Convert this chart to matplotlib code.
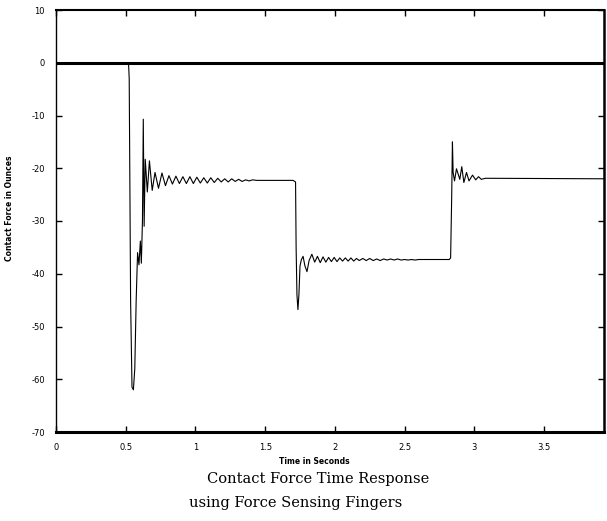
import matplotlib
matplotlib.use('Agg')
import matplotlib.pyplot as plt

# contact force trace (time in s, force in oz)
timeSec = [0.0, 0.52, 0.525, 0.535, 0.545, 0.555, 0.565, 0.575, 0.585, 0.595,
           0.605, 0.612, 0.62, 0.626, 0.632, 0.640, 0.655, 0.670, 0.690, 0.710,
           0.735, 0.760, 0.785, 0.810, 0.835, 0.860, 0.885, 0.910, 0.935, 0.960,
           0.985, 1.010, 1.035, 1.060, 1.085, 1.110, 1.135, 1.160, 1.185, 1.210,
           1.235, 1.260, 1.285, 1.310, 1.335, 1.360, 1.385, 1.410, 1.44, 1.70,
           1.718, 1.722, 1.728, 1.735, 1.742, 1.750, 1.760, 1.772, 1.785, 1.800,
           1.815, 1.835, 1.855, 1.875, 1.895, 1.915, 1.935, 1.955, 1.975, 1.995,
           2.015, 2.035, 2.055, 2.075, 2.095, 2.115, 2.135, 2.155, 2.175, 2.200,
           2.225, 2.250, 2.275, 2.300, 2.325, 2.350, 2.375, 2.400, 2.425, 2.450,
           2.475, 2.500, 2.525, 2.550, 2.575, 2.600, 2.625, 2.65, 2.82,
           2.830, 2.838, 2.843, 2.848, 2.858, 2.872, 2.896, 2.910, 2.925, 2.944,
           2.962, 2.987, 3.010, 3.030, 3.050, 3.080, 3.94]
forceOz = [0.0, 0.0, -3.0, -45.0, -61.5, -62.0, -58.0, -45.0, -36.0, -38.3,
           -33.8, -38.0, -30.0, -10.7, -31.0, -18.3, -24.5, -18.6, -24.2, -20.8,
           -23.8, -20.9, -23.3, -21.4, -23.0, -21.5, -22.9, -21.6, -22.9, -21.6,
           -22.9, -21.7, -22.8, -21.8, -22.8, -21.8, -22.7, -21.9, -22.6, -22.0,
           -22.6, -22.0, -22.5, -22.1, -22.5, -22.2, -22.4, -22.2, -22.3, -22.3,
           -22.6, -35.0, -44.0, -46.8, -44.0, -38.5, -37.3, -36.7, -38.5, -39.6,
           -37.5, -36.3, -37.8, -36.7, -37.9, -36.8, -37.8, -36.9, -37.7, -36.9,
           -37.7, -37.0, -37.6, -37.0, -37.6, -37.0, -37.6, -37.1, -37.5, -37.1,
           -37.5, -37.1, -37.5, -37.2, -37.5, -37.2, -37.4, -37.2, -37.4, -37.2,
           -37.4, -37.3, -37.4, -37.3, -37.4, -37.3, -37.3, -37.3, -37.3,
           -37.0, -25.0, -15.0, -20.8, -22.4, -20.1, -22.1, -19.7, -22.7, -20.8,
           -22.4, -21.3, -22.2, -21.6, -22.1, -21.9, -22.0]

xTicks = [0, 0.5, 1, 1.5, 2, 2.5, 3, 3.5]
xTickLabels = ['0', '0.5', '1', '1.5', '2', '2.5', '3', '3.5']
yTicks = [10, 0, -10, -20, -30, -40, -50, -60, -70]
yTickLabels = ['10', '0', '-10', '-20', '-30', '-40', '-50', '-60', '-70']

fig = plt.figure(figsize=(6.07, 5.21), dpi=100)
ax = fig.add_axes([56/607, 1-432/521, 548/607, 422/521])

ax.plot(timeSec, forceOz, color='black', lw=0.8)
ax.axhline(0, color='black', lw=2.2)

ax.set_xlim(0, 3.93)
ax.set_ylim(-70, 10)
ax.set_xticks(xTicks)
ax.set_xticklabels(xTickLabels, fontsize=6)
ax.set_yticks(yTicks)
ax.set_yticklabels(yTickLabels, fontsize=6)
ax.tick_params(axis='both', direction='in', top=True, right=True, length=4, width=1)
ax.tick_params(axis='x', pad=8)
ax.tick_params(axis='y', pad=8)

ax.spines['top'].set_linewidth(1.5)
ax.spines['bottom'].set_linewidth(2.2)
ax.spines['right'].set_linewidth(1.8)
ax.spines['left'].set_linewidth(1.0)

fig.text(314/607, 1-462/521, 'Time in Seconds', fontsize=5.5, fontweight='bold',
         ha='center', va='center')
fig.text(10/607, 1-208/521, 'Contact Force in Ounces', fontsize=5.5, fontweight='bold',
         rotation=90, ha='center', va='center')
fig.text(318/607, 1-479/521, 'Contact Force Time Response', fontsize=10.5,
         family='DejaVu Serif', ha='center', va='center')
fig.text(296/607, 1-503/521, 'using Force Sensing Fingers', fontsize=10.5,
         family='DejaVu Serif', ha='center', va='center')

plt.savefig('out.png', dpi=100)
